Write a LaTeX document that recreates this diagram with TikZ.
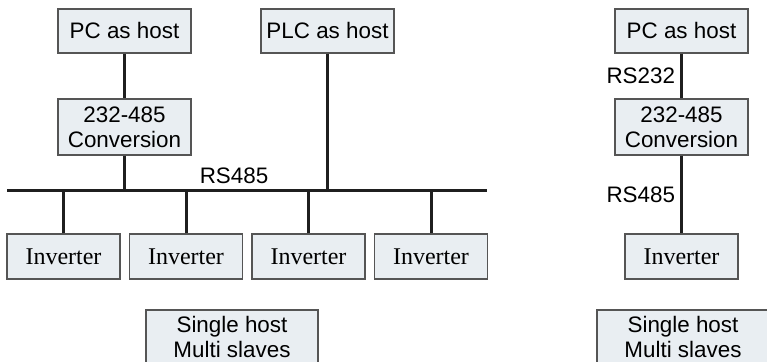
\documentclass[tikz,border=0pt]{standalone}
\usepackage{fontspec}
\setmainfont{Liberation Serif}
\setsansfont{Liberation Sans}
\usetikzlibrary{positioning}
\definecolor{boxfill}{HTML}{E9EEF2}
\definecolor{boxline}{HTML}{555555}

\begin{document}
\begin{tikzpicture}[x=0.5pt,y=-0.5pt,
  every node/.style={font=\sffamily\fontsize{11.2}{12.6}\selectfont},
  unit/.style={draw=boxline,fill=boxfill,line width=0.7pt,align=center,inner sep=0pt,
    minimum width=66.5pt,minimum height=22pt},
  conv/.style={unit,minimum height=28pt},
  inv/.style={unit,font=\rmfamily\fontsize{12}{14}\selectfont,minimum width=56.5pt,minimum height=22.5pt},
  note/.style={unit,minimum width=86pt,minimum height=27pt},
  wire/.style={draw=black!88,line width=1.5pt}]
  \useasboundingbox (0,0) rectangle (767,362);

  % single host, multi slaves
  \node[unit] (pc) at (124.5,31) {PC as host};
  \node[unit] (plc) at (327.5,31) {PLC as host};
  \node[conv] (conv) at (124.5,127) {232-485\\Conversion};
  \coordinate (busW) at (7,191);
  \coordinate (busE) at (487,191);
  \node (rs) at (234,176) {RS485};
  \node[inv] (inv1) at (63.5,256.5) {Inverter};
  \node[inv] (inv2) at (186,256.5) {Inverter};
  \node[inv] (inv3) at (308.5,256.5) {Inverter};
  \node[inv] (inv4) at (431,256.5) {Inverter};
  \node[note] (single) at (232,337) {Single host\\Multi slaves};

  \path[wire] (busW) -- (busE)
    (pc) -- (conv)
    (conv) -- (conv |- busW)
    (plc) -- (plc |- busW);
  \foreach \i in {1,...,4}
    \path[wire] (inv\i) -- (inv\i |- busW);

  % single host, single slave
  \node[unit] (pc2) at (681.5,31) {PC as host};
  \node[conv] (conv2) at (681.5,127) {232-485\\Conversion};
  \node[inv] (inv5) at (681.5,256.5) {Inverter};
  \node[note] (single2) at (683,337) {Single host\\Multi slaves};

  \path[wire] (pc2) -- node[left,inner sep=2.5pt] (rs232) {RS232} (conv2)
    (conv2) -- node[left,inner sep=2.5pt] (rs485) {RS485} (inv5);
\end{tikzpicture}
\end{document}
